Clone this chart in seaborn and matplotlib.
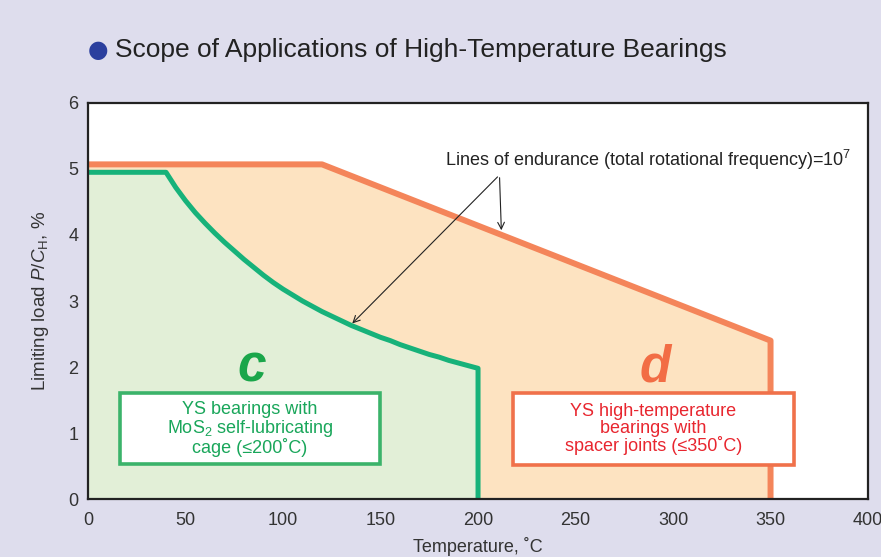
import numpy as np
import pandas as pd
import matplotlib
matplotlib.use("Agg")
import matplotlib.pyplot as plt
import seaborn as sns
from matplotlib.patches import Rectangle

# Data
orange_temp = [0, 120, 350, 350]
orange_load = [5.07, 5.07, 2.40, 0.0]

green_temp = [0, 40, 45, 50, 55, 60, 65, 70, 75, 80, 85, 90, 95, 100, 105, 110, 115, 120,
              125, 130, 135, 140, 145, 150, 155, 160, 165, 170, 175, 180, 185, 190, 195,
              200, 200]
green_load = [4.95, 4.95, 4.72, 4.52, 4.34, 4.18, 4.03, 3.89, 3.76, 3.63, 3.51, 3.39, 3.28,
              3.18, 3.09, 3.00, 2.92, 2.84, 2.77, 2.70, 2.63, 2.57, 2.51, 2.45, 2.40, 2.34,
              2.29, 2.24, 2.19, 2.15, 2.10, 2.06, 2.02, 1.98, 0.0]

x_ticks = [0, 50, 100, 150, 200, 250, 300, 350, 400]
y_ticks = [0, 1, 2, 3, 4, 5, 6]

BG = "#dedded"
ORANGE = "#f4855a"
GREEN = "#17b27a"

sns.set_theme(style="white")
plt.rcParams["font.family"] = ["Liberation Sans", "DejaVu Sans"]
plt.rcParams["mathtext.fontset"] = "custom"
plt.rcParams["mathtext.rm"] = "Liberation Sans"
plt.rcParams["mathtext.it"] = "Liberation Sans:italic"

fig = plt.figure(figsize=(8.81, 5.57), dpi=100, facecolor=BG)
ax = fig.add_axes([0.0999, 0.1041, 0.8854, 0.711])
ax.set_facecolor("white")

orange_df = pd.DataFrame({"temp": orange_temp, "load": orange_load})
green_df = pd.DataFrame({"temp": green_temp, "load": green_load})

# filled regions
ax.fill_between(orange_df["temp"], 0, orange_df["load"], color="#fde3c1", lw=0, zorder=1)
ax.fill_between(green_df["temp"], 0, green_df["load"], color="#e2efd7", lw=0, zorder=2)

sns.lineplot(data=orange_df, x="temp", y="load", sort=False, estimator=None,
             color=ORANGE, lw=4.3, ax=ax, zorder=3)
sns.lineplot(data=green_df, x="temp", y="load", sort=False, estimator=None,
             color=GREEN, lw=3.6, ax=ax, zorder=4)

ax.set_xlim(0, 400)
ax.set_ylim(0, 6)
ax.set_xticks(x_ticks)
ax.set_yticks(y_ticks)
ax.tick_params(direction="in", length=6, width=1, color="#222222", labelsize=13,
               labelcolor="#333333")
ax.tick_params(axis="x", pad=9)
ax.tick_params(axis="y", pad=7)
for s in ax.spines.values():
    s.set_color("#222222")
    s.set_linewidth(1.6)
    s.set_zorder(6)

ax.set_xlabel("Temperature, ˚C", fontsize=13, color="#333333", labelpad=6)
ax.set_ylabel(r"Limiting load $P/C_{\rm H}$, %", fontsize=13.5, color="#333333",
              labelpad=12)

# annotation arrows
ax.annotate("", xy=(212, 4.03), xytext=(211, 4.91),
            arrowprops=dict(arrowstyle="->", color="#222222", lw=0.8), zorder=7)
ax.annotate("", xy=(134.5, 2.63), xytext=(211, 4.91),
            arrowprops=dict(arrowstyle="->", color="#222222", lw=0.8), zorder=7)
ax.text(183, 5.14, "Lines of endurance (total rotational frequency)=10$^{7}$",
        fontsize=13, color="#222222", ha="left", va="center", zorder=7)

# region labels
ax.text(84, 1.98, "c", fontsize=37, fontweight="bold", style="italic", color="#1aa64a",
        ha="center", va="center", zorder=7)
ax.text(291, 1.98, "d", fontsize=37, fontweight="bold", style="italic", color="#f26d45",
        ha="center", va="center", zorder=7)

ax.add_patch(Rectangle((16.5, 0.53), 133, 1.07, facecolor="white", edgecolor="#3bb36a",
                       lw=2.6, zorder=7))
ax.text(83, 1.06, "YS bearings with\nMoS$_2$ self-lubricating\ncage (≤200˚C)",
        fontsize=13, color="#19a65a", ha="center", va="center", linespacing=0.95, zorder=8)

ax.add_patch(Rectangle((218, 0.52), 144, 1.08, facecolor="white", edgecolor="#f0714a",
                       lw=2.6, zorder=7))
ax.text(290, 1.06, "YS high-temperature\nbearings with\nspacer joints (≤350˚C)",
        fontsize=13, color="#e8262f", ha="center", va="center", linespacing=0.95, zorder=8)

# title with blue dot
fig.text(0.100, 0.910, "●", fontsize=17, color="#2b3f9e", ha="left", va="center",
         family=["DejaVu Sans"])
fig.text(0.131, 0.910, "Scope of Applications of High-Temperature Bearings",
         fontsize=19, color="#222222", ha="left", va="center")

fig.savefig("out.png", dpi=100, facecolor=BG)
